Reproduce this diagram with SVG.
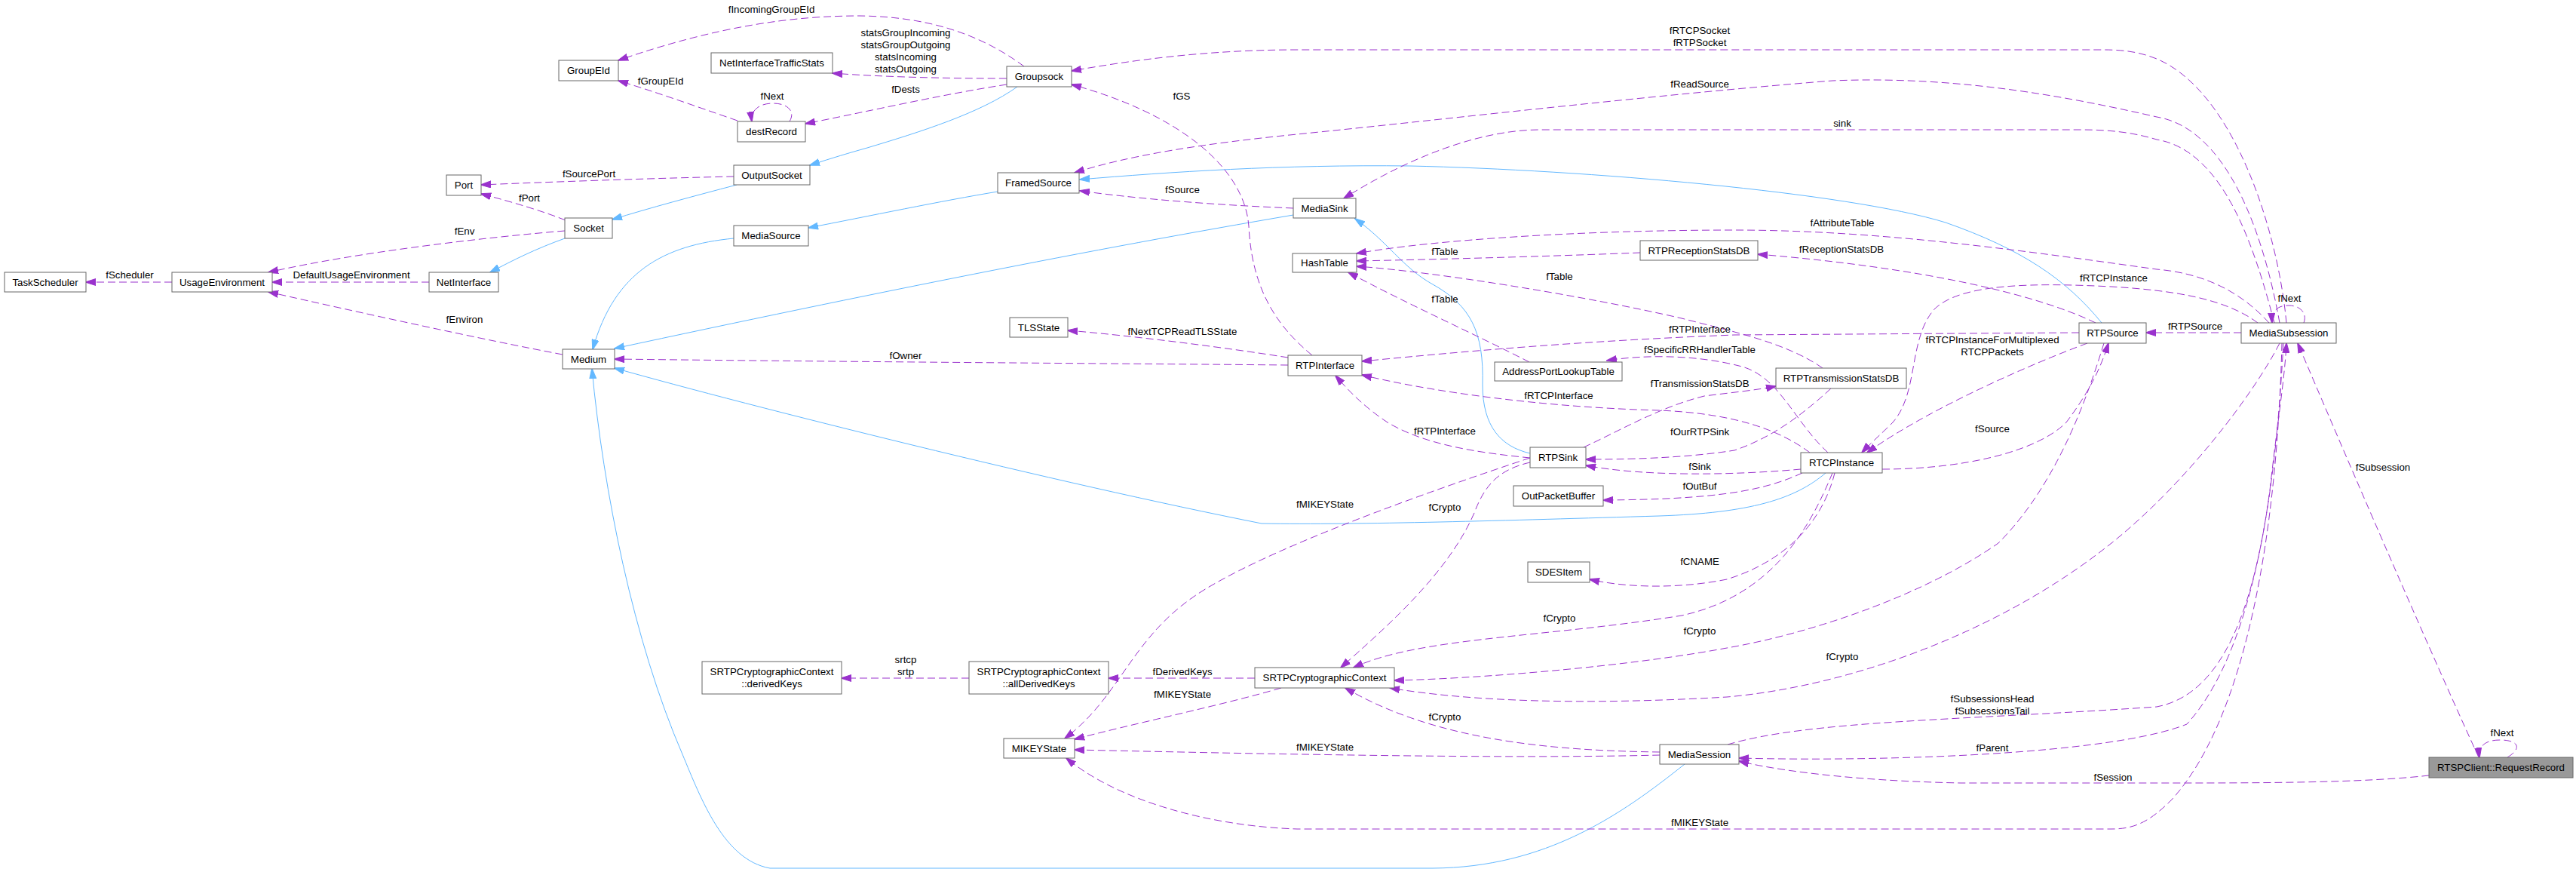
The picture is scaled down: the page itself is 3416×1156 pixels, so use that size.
<svg xmlns="http://www.w3.org/2000/svg" width="3416" height="1156" viewBox="0 0 3416 1156">
<style>
.n rect{fill:#fff;stroke:#666;stroke-width:1}
.root rect{fill:#999}
text{font-family:"Liberation Sans",Arial,sans-serif;font-size:13.3px;fill:#000;text-anchor:middle}
.e path{fill:none;stroke:#9a32cd;stroke-width:1;stroke-dasharray:10,5;marker-end:url(#ap)}
.e path.i{stroke:#63b8ff;stroke-dasharray:none;marker-end:url(#ab)}
</style>
<defs>
<marker id="ap" markerUnits="userSpaceOnUse" markerWidth="14" markerHeight="10" viewBox="0 0 14 10" refX="13" refY="5" orient="auto"><path d="M0,0.5 L14,5 L0,9.5 z" fill="#9a32cd" stroke="#9a32cd"/></marker>
<marker id="ab" markerUnits="userSpaceOnUse" markerWidth="14" markerHeight="10" viewBox="0 0 14 10" refX="13" refY="5" orient="auto"><path d="M0,0.5 L14,5 L0,9.5 z" fill="#63b8ff" stroke="#63b8ff"/></marker>
</defs>
<rect width="3416" height="1156" fill="#fff"/>
<g class="e" id="edges">
<path class="i" d="M1349,115 C1300,150 1220,175 1150,196 C1125,203 1105,209 1074,219"/>
<path class="i" d="M977,245 C920,260 860,276 812,291"/>
<path class="i" d="M749,316 C710,330 680,345 650,361"/>
<path class="i" d="M1323,254 C1250,266 1150,287 1072,302"/>
<path class="i" d="M973,316 C880,325 815,360 786,463"/>
<path class="i" d="M1715,285 C1450,330 1150,390 815,462"/>
<path class="i" d="M2787,428 C2740,370 2680,330 2580,295 C2450,255 2100,225 1870,220 C1700,218 1550,228 1432,238"/>
<path class="i" d="M2029,601 C1990,592 1966,565 1966,510 C1968,440 1950,405 1900,377 C1860,355 1840,320 1797,290"/>
<path class="i" d="M2421,627 C2380,662 2320,680 2200,684 C2000,690 1800,696 1673,694 C1400,640 1000,540 815,488"/>
<path class="i" d="M2234,1013 C2150,1080 2050,1150 1900,1151 L1021,1151 C960,1140 930,1060 905,1000 C840,850 800,650 785,489"/>
<path d="M228,374 L114,374"/>
<path d="M569,374 L361,374"/>
<path d="M749,306 C640,315 470,335 356,361"/>
<path d="M746,470 C640,450 480,415 356,387"/>
<path d="M750,292 C720,280 680,268 638,257"/>
<path d="M973,234 C880,236 760,240 638,245"/>
<path d="M978,160 C920,140 870,122 820,107"/>
<path d="M1047,161 C1055,148 1045,137 1025,137 C1005,137 995,148 997,161"/>
<path d="M1335,112 C1250,125 1150,148 1068,164"/>
<path d="M1335,104 C1250,104 1170,102 1104,97"/>
<path d="M1358,88 C1300,45 1230,22 1140,21 C1050,21 950,35 820,80"/>
<path d="M3032,428 C3020,300 2960,120 2860,78 C2840,70 2820,66 2790,66 L1720,66 C1600,66 1500,80 1421,94"/>
<path d="M3023,428 C3000,300 2950,170 2860,155 C2750,130 2600,100 2430,107 C2200,125 1900,160 1720,178 C1600,190 1500,205 1425,229"/>
<path d="M3016,428 C2990,330 2950,200 2860,185 C2830,176 2800,172 2760,172 L2043,172 C1950,172 1850,220 1782,263"/>
<path d="M3009,428 C2970,385 2920,362 2860,357 C2700,335 2500,305 2300,305 C2100,305 1900,318 1799,336"/>
<path d="M2175,335 C2050,340 1900,344 1799,346"/>
<path d="M2417,488 C2370,455 2300,440 2230,422 C2100,392 1900,360 1799,353"/>
<path d="M2028,480 C1960,445 1860,400 1788,361"/>
<path d="M2779,428 C2700,390 2550,355 2331,337"/>
<path d="M2994,428 C2950,395 2880,385 2800,380 C2700,375 2600,375 2565,410 C2530,450 2545,520 2510,560 C2495,575 2480,588 2469,600"/>
<path d="M2768,455 C2700,480 2560,540 2476,600"/>
<path d="M2972,441 L2846,441"/>
<path d="M2496,622 C2600,622 2700,600 2740,560 C2770,520 2785,490 2796,455"/>
<path d="M2790,455 C2770,520 2730,640 2650,720 C2550,790 2400,840 2290,859 C2150,885 1950,900 1849,902"/>
<path d="M3023,455 C2990,520 2900,640 2800,720 C2650,840 2450,910 2290,924 C2100,935 1950,930 1843,912"/>
<path d="M2433,627 C2420,680 2380,740 2290,768 C2220,782 2150,778 2108,768"/>
<path d="M2430,627 C2400,700 2350,790 2230,816 C2050,845 1880,845 1795,885"/>
<path d="M2029,613 C1990,622 1970,640 1955,680 C1920,760 1840,830 1778,885"/>
<path d="M2029,607 C1900,650 1700,720 1600,780 C1500,840 1490,920 1412,979"/>
<path d="M1664,899 L1470,899"/>
<path d="M1285,899 L1116,899"/>
<path d="M1699,912 C1620,935 1500,960 1425,980"/>
<path d="M2201,1001 C2000,1006 1700,1000 1425,994"/>
<path d="M2201,997 C2050,995 1900,980 1784,912"/>
<path d="M2291,987 C2400,955 2600,955 2860,937 C2950,920 2990,800 3010,650 C3020,560 3030,500 3032,455"/>
<path d="M3028,455 C3020,600 3000,850 2900,960 C2800,1000 2500,1010 2306,1005"/>
<path d="M3221,1028 C3150,1036 3050,1038 2900,1038 L2600,1038 C2450,1035 2350,1020 2306,1009"/>
<path d="M3026,455 C3020,700 2980,950 2880,1060 C2850,1090 2830,1099 2800,1099 L1720,1099 C1600,1095 1480,1060 1414,1005"/>
<path d="M3287,1004 C3230,880 3130,650 3047,455"/>
<path d="M3325,1004 C3345,992 3340,981 3315,981 C3295,981 3286,990 3288,1004"/>
<path d="M3055,428 C3060,415 3050,405 3035,405 C3020,405 3012,412 3013,428"/>
<path d="M2757,441 L2300,444 C2100,452 1950,465 1806,479"/>
<path d="M2424,600 C2380,560 2360,500 2310,486 C2250,470 2180,470 2131,478"/>
<path d="M2100,593 C2150,570 2200,540 2260,525 C2300,520 2330,517 2355,512"/>
<path d="M2428,515 C2390,550 2350,580 2300,597 C2230,608 2150,609 2103,609"/>
<path d="M2388,622 C2300,630 2180,632 2103,617"/>
<path d="M2390,627 C2340,650 2280,662 2126,663"/>
<path d="M2400,600 C2360,570 2300,548 2200,544 C2050,540 1900,520 1806,497"/>
<path d="M2029,607 C1960,600 1890,590 1840,560 C1810,540 1790,520 1771,498"/>
<path d="M1740,471 C1690,430 1660,380 1656,300 C1650,220 1560,150 1421,112"/>
<path d="M1708,474 C1620,460 1500,445 1416,438"/>
<path d="M1708,484 C1500,482 1150,480 815,476"/>
<path d="M1715,276 C1620,272 1520,265 1432,253"/>
</g>
<g id="labels">
<text x="172" y="369">fScheduler</text>
<text x="466" y="369">DefaultUsageEnvironment</text>
<text x="616" y="311">fEnv</text>
<text x="616" y="428">fEnviron</text>
<text x="702" y="267">fPort</text>
<text x="781" y="235">fSourcePort</text>
<text x="876" y="112">fGroupEId</text>
<text x="1024" y="132">fNext</text>
<text x="1201" y="123">fDests</text>
<text x="1201" y="48">statsGroupIncoming</text>
<text x="1201" y="64">statsGroupOutgoing</text>
<text x="1201" y="80">statsIncoming</text>
<text x="1201" y="96">statsOutgoing</text>
<text x="1023" y="17">fIncomingGroupEId</text>
<text x="2254" y="45">fRTCPSocket</text>
<text x="2254" y="61">fRTPSocket</text>
<text x="2254" y="116">fReadSource</text>
<text x="2443" y="168">sink</text>
<text x="2443" y="300">fAttributeTable</text>
<text x="1916" y="338">fTable</text>
<text x="2068" y="371">fTable</text>
<text x="1916" y="401">fTable</text>
<text x="2442" y="335">fReceptionStatsDB</text>
<text x="2803" y="373">fRTCPInstance</text>
<text x="2642" y="455">fRTCPInstanceForMultiplexed</text>
<text x="2642" y="471">RTCPPackets</text>
<text x="2911" y="437">fRTPSource</text>
<text x="2642" y="573">fSource</text>
<text x="2254" y="841">fCrypto</text>
<text x="2443" y="875">fCrypto</text>
<text x="2254" y="749">fCNAME</text>
<text x="2068" y="824">fCrypto</text>
<text x="1916" y="677">fCrypto</text>
<text x="1757" y="673">fMIKEYState</text>
<text x="1568" y="895">fDerivedKeys</text>
<text x="1201" y="879">srtcp</text>
<text x="1201" y="895">srtp</text>
<text x="1568" y="925">fMIKEYState</text>
<text x="1757" y="995">fMIKEYState</text>
<text x="1916" y="955">fCrypto</text>
<text x="2642" y="931">fSubsessionsHead</text>
<text x="2642" y="947">fSubsessionsTail</text>
<text x="2642" y="996">fParent</text>
<text x="2802" y="1035">fSession</text>
<text x="2254" y="1095">fMIKEYState</text>
<text x="3160" y="624">fSubsession</text>
<text x="3318" y="976">fNext</text>
<text x="3036" y="400">fNext</text>
<text x="2254" y="441">fRTPInterface</text>
<text x="2254" y="468">fSpecificRRHandlerTable</text>
<text x="2254" y="513">fTransmissionStatsDB</text>
<text x="2254" y="577">fOurRTPSink</text>
<text x="2254" y="623">fSink</text>
<text x="2254" y="649">fOutBuf</text>
<text x="2067" y="529">fRTCPInterface</text>
<text x="1916" y="576">fRTPInterface</text>
<text x="1567" y="132">fGS</text>
<text x="1568" y="444">fNextTCPReadTLSState</text>
<text x="1201" y="476">fOwner</text>
<text x="1568" y="256">fSource</text>
</g>
<g id="TaskScheduler" class="n"><rect x="6" y="361" width="108" height="26"/><text x="60" y="379">TaskScheduler</text></g>
<g id="UsageEnvironment" class="n"><rect x="228" y="361" width="133" height="26"/><text x="294.5" y="379">UsageEnvironment</text></g>
<g id="NetInterface" class="n"><rect x="569" y="361" width="92" height="26"/><text x="615" y="379">NetInterface</text></g>
<g id="Port" class="n"><rect x="592" y="232" width="46" height="27"/><text x="615" y="250">Port</text></g>
<g id="Socket" class="n"><rect x="749" y="289" width="63" height="27"/><text x="780.5" y="307">Socket</text></g>
<g id="GroupEId" class="n"><rect x="741" y="80" width="79" height="27"/><text x="780.5" y="98">GroupEId</text></g>
<g id="NetInterfaceTrafficStats" class="n"><rect x="943" y="70" width="161" height="27"/><text x="1023.5" y="88">NetInterfaceTrafficStats</text></g>
<g id="destRecord" class="n"><rect x="978" y="161" width="90" height="27"/><text x="1023" y="179">destRecord</text></g>
<g id="OutputSocket" class="n"><rect x="973" y="219" width="101" height="26"/><text x="1023.5" y="237">OutputSocket</text></g>
<g id="MediaSource" class="n"><rect x="973" y="299" width="99" height="27"/><text x="1022.5" y="317">MediaSource</text></g>
<g id="Medium" class="n"><rect x="746" y="463" width="69" height="26"/><text x="780.5" y="481">Medium</text></g>
<g id="Groupsock" class="n"><rect x="1335" y="88" width="86" height="27"/><text x="1378" y="106">Groupsock</text></g>
<g id="FramedSource" class="n"><rect x="1323" y="229" width="108" height="27"/><text x="1377" y="247">FramedSource</text></g>
<g id="TLSState" class="n"><rect x="1339" y="421" width="77" height="26"/><text x="1377.5" y="439">TLSState</text></g>
<g id="RTPInterface" class="n"><rect x="1708" y="471" width="98" height="27"/><text x="1757" y="489">RTPInterface</text></g>
<g id="MediaSink" class="n"><rect x="1715" y="263" width="83" height="26"/><text x="1756.5" y="281">MediaSink</text></g>
<g id="HashTable" class="n"><rect x="1714" y="336" width="85" height="25"/><text x="1756.5" y="353">HashTable</text></g>
<g id="AddressPortLookupTable" class="n"><rect x="1982" y="480" width="169" height="25"/><text x="2066.5" y="497">AddressPortLookupTable</text></g>
<g id="RTPReceptionStatsDB" class="n"><rect x="2175" y="319" width="156" height="26"/><text x="2253" y="337">RTPReceptionStatsDB</text></g>
<g id="RTPTransmissionStatsDB" class="n"><rect x="2355" y="488" width="173" height="27"/><text x="2441.5" y="506">RTPTransmissionStatsDB</text></g>
<g id="RTPSource" class="n"><rect x="2757" y="428" width="89" height="27"/><text x="2801.5" y="446">RTPSource</text></g>
<g id="MediaSubsession" class="n"><rect x="2972" y="428" width="126" height="27"/><text x="3035" y="446">MediaSubsession</text></g>
<g id="RTPSink" class="n"><rect x="2029" y="593" width="74" height="27"/><text x="2066" y="611">RTPSink</text></g>
<g id="OutPacketBuffer" class="n"><rect x="2007" y="644" width="119" height="27"/><text x="2066.5" y="662">OutPacketBuffer</text></g>
<g id="SDESItem" class="n"><rect x="2026" y="745" width="82" height="27"/><text x="2067" y="763">SDESItem</text></g>
<g id="RTCPInstance" class="n"><rect x="2388" y="600" width="108" height="27"/><text x="2442" y="618">RTCPInstance</text></g>
<g id="SRTPCryptographicContext" class="n"><rect x="1664" y="885" width="185" height="27"/><text x="1756.5" y="903">SRTPCryptographicContext</text></g>
<g id="allDerivedKeys" class="n"><rect x="1285" y="877" width="185" height="43"/><text x="1377.5" y="895">SRTPCryptographicContext</text><text x="1377.5" y="911">::allDerivedKeys</text></g>
<g id="derivedKeys" class="n"><rect x="931" y="877" width="185" height="43"/><text x="1023.5" y="895">SRTPCryptographicContext</text><text x="1023.5" y="911">::derivedKeys</text></g>
<g id="MIKEYState" class="n"><rect x="1331" y="979" width="94" height="26"/><text x="1378" y="997">MIKEYState</text></g>
<g id="MediaSession" class="n"><rect x="2201" y="987" width="105" height="26"/><text x="2253.5" y="1005">MediaSession</text></g>
<g id="RequestRecord" class="n root"><rect x="3221" y="1004" width="191" height="27"/><text x="3316.5" y="1022">RTSPClient::RequestRecord</text></g>
</svg>
